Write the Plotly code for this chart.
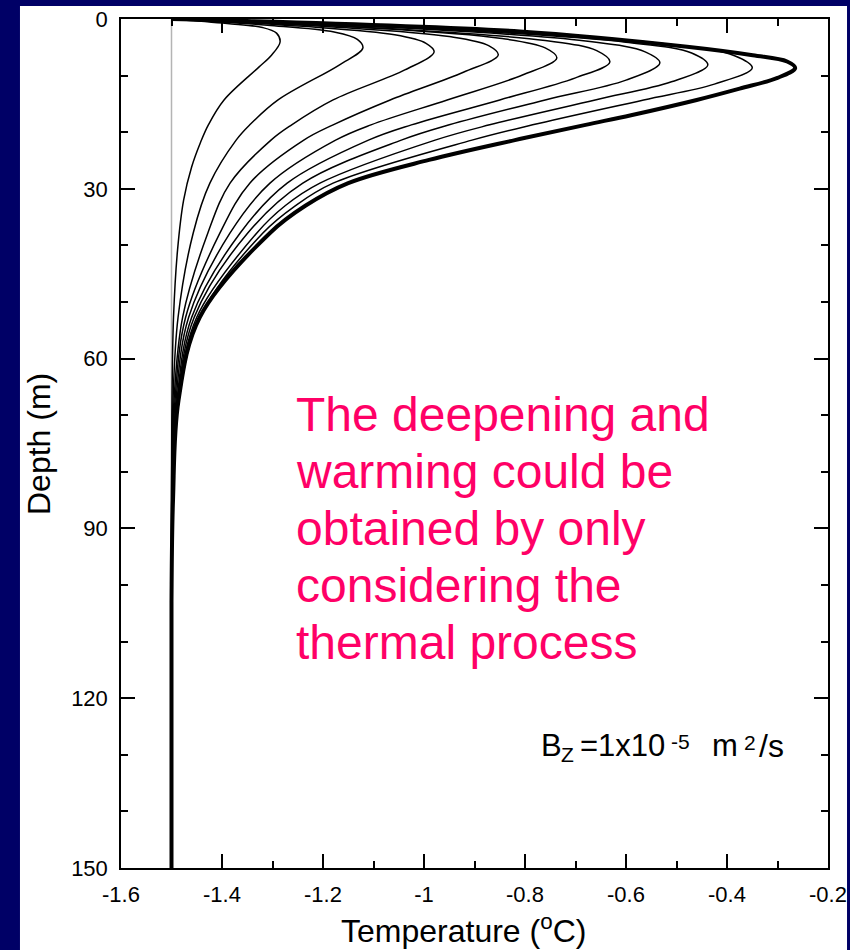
import plotly.graph_objects as go

# ---------------- data ----------------
# Initial profile (grey)
T0 = [-1.5, -1.5]
D0 = [0, 150]

# Ten successive temperature profiles (degC) vs depth (m); the last one is drawn thick
D1 = [0, 0.8, 1.5, 2.5, 4.06, 6.4, 8.5, 14.3, 18.7, 21.9, 26.1, 32.0, 40.8, 52.7, 67.3, 85.0, 150]
T1 = [-1.5, -1.39, -1.32, -1.292, -1.285, -1.302, -1.327, -1.396, -1.427, -1.443, -1.460, -1.476, -1.488, -1.496, -1.499, -1.5, -1.5]

D2 = [0, 1.1, 2.3, 3.6, 5.12, 8.13, 14.3, 18.7, 21.4, 29.0, 37.8, 52.7, 67.3, 85.0, 150]
T2 = [-1.5, -1.31, -1.178, -1.132, -1.121, -1.168, -1.289, -1.345, -1.372, -1.424, -1.457, -1.487, -1.497, -1.5, -1.5]

D3 = [0, 1.3, 2.8, 4.3, 5.83, 9.0, 14.3, 18.7, 21.4, 29.0, 37.8, 52.7, 67.3, 85.0, 150]
T3 = [-1.5, -1.24, -1.058, -0.996, -0.980, -1.038, -1.180, -1.262, -1.303, -1.384, -1.428, -1.478, -1.495, -1.499, -1.5]

D4 = [0, 1.4, 3.1, 4.7, 6.36, 9.4, 14.3, 18.7, 21.4, 29.0, 37.8, 52.7, 67.3, 85.0, 150]
T4 = [-1.5, -1.18, -0.95, -0.872, -0.853, -0.922, -1.067, -1.180, -1.238, -1.345, -1.404, -1.472, -1.493, -1.499, -1.5]

D5 = [0, 1.5, 3.4, 5.1, 6.89, 9.9, 14.3, 18.7, 21.4, 29.0, 37.8, 52.7, 67.3, 85.0, 150]
T5 = [-1.5, -1.12, -0.85, -0.76, -0.737, -0.805, -0.954, -1.105, -1.175, -1.305, -1.384, -1.466, -1.491, -1.498, -1.5]

D6 = [0, 1.7, 3.8, 5.6, 7.6, 10.4, 14.3, 18.7, 21.4, 29.0, 37.8, 52.7, 67.3, 85.0, 150]
T6 = [-1.5, -1.07, -0.76, -0.658, -0.632, -0.700, -0.850, -1.025, -1.110, -1.271, -1.364, -1.460, -1.489, -1.498, -1.5]

D7 = [0, 1.7, 3.9, 5.8, 7.77, 10.8, 14.3, 18.7, 21.4, 29.0, 37.8, 52.7, 67.3, 85.0, 150]
T7 = [-1.5, -1.02, -0.68, -0.562, -0.533, -0.600, -0.760, -0.950, -1.045, -1.240, -1.349, -1.455, -1.488, -1.498, -1.5]

D8 = [0, 1.8, 4.1, 6.0, 8.13, 11.1, 14.3, 18.7, 21.4, 29.0, 33.0, 37.8, 52.7, 67.3, 85.0, 150]
T8 = [-1.5, -0.97, -0.60, -0.47, -0.438, -0.510, -0.661, -0.870, -0.978, -1.206, -1.275, -1.331, -1.450, -1.487, -1.497, -1.5]

D9 = [0, 1.9, 4.4, 6.5, 8.66, 11.5, 14.3, 18.7, 21.4, 29.0, 33.0, 37.8, 52.7, 67.3, 85.0, 150]
T9 = [-1.5, -0.92, -0.52, -0.385, -0.350, -0.425, -0.565, -0.785, -0.905, -1.180, -1.255, -1.319, -1.444, -1.485, -1.497, -1.5]

D10 = [0, 2.2, 4.9, 6.4, 7.5, 8.66, 10.4, 12.3, 14.3, 17.0, 18.7, 21.4, 24.9, 29.0, 33.0, 37.8, 52.7, 67.3, 85.0, 103, 150]
T10 = [-1.5, -0.81, -0.479, -0.349, -0.281, -0.265, -0.300, -0.375, -0.460, -0.590, -0.680, -0.820, -0.990, -1.150, -1.235, -1.305, -1.444, -1.486, -1.497, -1.5, -1.5]

thin_T = [T1, T2, T3, T4, T5, T6, T7, T8, T9]
thin_D = [D1, D2, D3, D4, D5, D6, D7, D8, D9]

x_tickvals = [-1.6, -1.4, -1.2, -1.0, -0.8, -0.6, -0.4, -0.2]
x_ticktext = ["-1.6", "-1.4", "-1.2", "-1", "-0.8", "-0.6", "-0.4", "-0.2"]
y_tickvals = [0, 30, 60, 90, 120, 150]
y_ticktext = ["0", "30", "60", "90", "120", "150"]

note_lines = ["The deepening and", "warming could be", "obtained by only",
              "considering the", "thermal process"]
note_depths = [69.8, 79.9, 90.0, 100.1, 110.2]

# label "Bz=1x10-5 m2/s" split into pieces: (text, temperature-x, depth-y, font size)
bz_text = ["B", "Z", "=1x10", "-5", "m", "2", "/s"]
bz_x = [-0.7723, -0.7327, -0.6950, -0.5150, -0.4337, -0.3703, -0.3406]
bz_y = [128.4, 129.9, 128.4, 127.65, 128.4, 127.8, 128.4]
bz_size = [31, 21, 31, 21, 31, 21, 32]

FONT = "Arial, 'Liberation Sans', sans-serif"
NAVY = "#000066"
PINK = "#FF0066"

fig = go.Figure()

fig.add_trace(go.Scatter(x=T0, y=D0, mode="lines",
                         line=dict(color="#b4b4b4", width=1.5), showlegend=False))
for T, D in zip(thin_T, thin_D):
    fig.add_trace(go.Scatter(x=T, y=D, mode="lines",
                             line=dict(color="black", width=1.5, shape="spline", smoothing=1.0),
                             showlegend=False))
fig.add_trace(go.Scatter(x=T10, y=D10, mode="lines",
                         line=dict(color="black", width=4, shape="spline", smoothing=1.0),
                         showlegend=False))

# white panel behind the chart
fig.add_shape(type="rect", xref="paper", yref="paper",
              x0=-0.1429, x1=1.0269, y0=-0.2, y1=1.0153,
              fillcolor="white", line=dict(width=0), layer="below")

for txt, d in zip(note_lines, note_depths):
    fig.add_annotation(x=-1.2575, y=d, xref="x", yref="y", text=txt,
                       xanchor="left", yanchor="middle", showarrow=False,
                       font=dict(family=FONT, size=48, color=PINK))

for txt, xv, yv, sz in zip(bz_text, bz_x, bz_y, bz_size):
    fig.add_annotation(x=xv, y=yv, xref="x", yref="y", text=txt,
                       xanchor="left", yanchor="middle", showarrow=False,
                       font=dict(family=FONT, size=sz, color="black"))

# axis titles
fig.add_annotation(x=0.484, y=-0.0718, xref="paper", yref="paper",
                   text="Temperature (<sup>o</sup>C)", showarrow=False,
                   xanchor="center", yanchor="middle",
                   font=dict(family=FONT, size=32, color="black"))
fig.add_annotation(x=-0.1167, y=0.5, xref="paper", yref="paper",
                   text="Depth (m)", showarrow=False, textangle=-90,
                   xanchor="center", yanchor="middle",
                   font=dict(family=FONT, size=32, color="black"))

axis_common = dict(showgrid=False, zeroline=False, showline=True, linecolor="black",
                   linewidth=1.5, mirror="ticks", ticks="inside", tickcolor="black",
                   tickwidth=1.5, ticklen=14, automargin=False,
                   tickfont=dict(family=FONT, size=22, color="black"))

fig.update_xaxes(range=[-1.6, -0.2], tickvals=x_tickvals, ticktext=x_ticktext,
                 minor=dict(ticks="inside", ticklen=7, dtick=0.1, tick0=-1.6,
                            tickcolor="black", tickwidth=1.5),
                 ticklabelstandoff=6, **axis_common)
fig.update_yaxes(range=[150, 0], tickvals=y_tickvals, ticktext=y_ticktext,
                 minor=dict(ticks="inside", ticklen=7, dtick=10, tick0=0,
                            tickcolor="black", tickwidth=1.5),
                 ticklabelstandoff=7, **axis_common)

fig.update_layout(width=850, height=950, paper_bgcolor=NAVY, plot_bgcolor="white",
                  margin=dict(l=121, r=22, t=19, b=82, autoexpand=False), showlegend=False,
                  font=dict(family=FONT))

fig.write_html("out.html", config={"displayModeBar": False},
               post_script="document.body.style.margin='0';document.body.style.background='#000066';")
